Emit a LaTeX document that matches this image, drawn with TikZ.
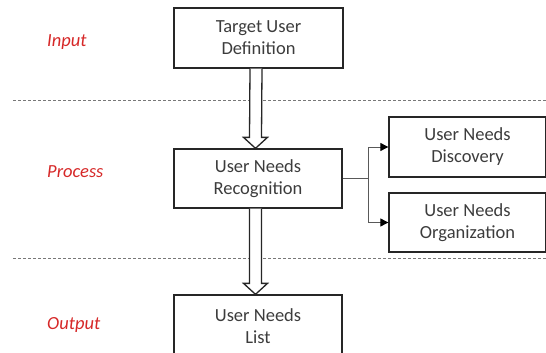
\documentclass[tikz,border=0pt]{standalone}
\usepackage{fontspec}
\setmainfont{Carlito}
\usetikzlibrary{calc,arrows.meta}
\definecolor{lblred}{RGB}{214,40,40}
\definecolor{txtgray}{RGB}{60,60,60}
\definecolor{dashgray}{RGB}{120,120,120}
\tikzset{
  box/.style={draw=black!85, line width=1.3pt, minimum height=59pt, align=center,
    text=txtgray, font=\fontsize{18.5}{22}\selectfont, inner sep=0pt},
  phase/.style={text=lblred, font=\fontsize{18.5}{22}\selectfont\itshape, anchor=west, inner sep=0pt},
  sep/.style={draw=dashgray, line width=0.9pt, dash pattern=on 3pt off 2pt},
  blockarrow/.style={draw=black!85, line width=1.3pt, fill=white, line join=miter},
  conn/.style={draw=black!65, line width=0.9pt, -{Triangle[length=8pt,width=8pt,color=black]}}
}
\begin{document}
\begin{tikzpicture}[x=1pt,y=-1pt]
\useasboundingbox (0,0) rectangle (546,353);
\clip (0,0) rectangle (546,353);
% separators
\coordinate (s1a) at (13,100); \coordinate (s1b) at (546,100);
\coordinate (s2a) at (13,258); \coordinate (s2b) at (546,258);
\draw[sep] (s1a) -- (s1b);
\draw[sep] (s2a) -- (s2b);
% phase labels
\node[phase] (lin) at (47,42) {Input};
\node[phase] (lpr) at (47,172) {Process};
\node[phase] (lout) at (47,325) {Output};
% boxes
\node[box, minimum width=169pt, minimum height=60pt] (t) at (258.5,38) {Target User\\Definition};
\node[box, minimum width=168pt] (r) at (258,178.5) {User Needs\\Recognition};
\node[box, minimum width=157pt, minimum height=60pt] (d) at (467.5,147) {User Needs\\Discovery};
\node[box, minimum width=157pt] (o) at (467.5,222.5) {User Needs\\Organization};
\node[box, minimum width=168pt, minimum height=62pt] (l) at (258,326) {User Needs\\List};
% block arrows
\draw[blockarrow] ($(t.south)+(-8.5,0)$) -- ($(r.north)+(-8.5,-11)$) -- ($(r.north)+(-14.5,-11)$)
  -- ($(r.north)+(-2.5,0)$) -- ($(r.north)+(9.5,-11)$) -- ($(r.north)+(3.5,-11)$) -- ($(t.south)+(3.5,0)$);
\draw[blockarrow] ($(r.south)+(-8.5,0)$) -- ($(l.north)+(-8.5,-11)$) -- ($(l.north)+(-14.5,-11)$)
  -- ($(l.north)+(-2.5,0)$) -- ($(l.north)+(9.5,-11)$) -- ($(l.north)+(3.5,-11)$) -- ($(r.south)+(3.5,0)$);
% side connectors
\coordinate (j) at ($(r.east)+(26,0)$);
\draw[conn] (r.east) -- (j) |- (d.west);
\draw[conn] (j) |- (o.west);
\end{tikzpicture}
\end{document}
